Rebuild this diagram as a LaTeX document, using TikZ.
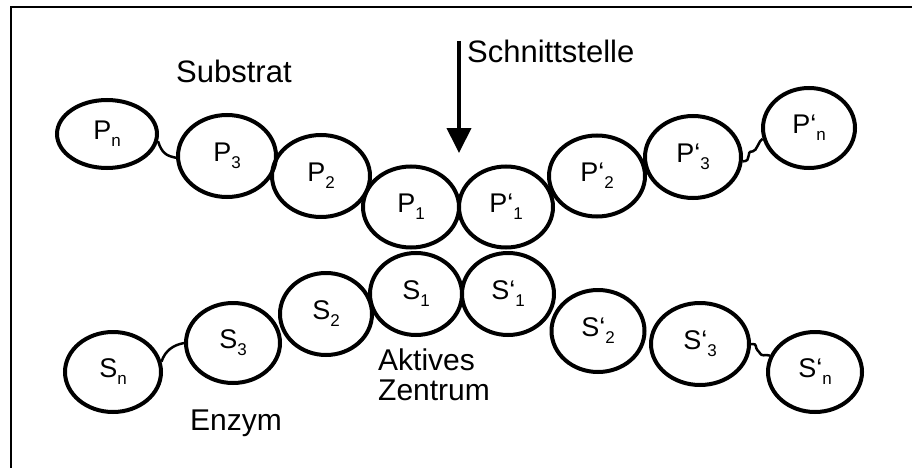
\documentclass[tikz,border=0pt]{standalone}
\usepackage{fontspec}
\setmainfont{Liberation Sans}
\usetikzlibrary{shapes.geometric,arrows.meta}
\newcommand\sublbl[2]{#1\raisebox{-7pt}{\fontsize{17}{17}\selectfont #2}}
\begin{document}
\begin{tikzpicture}[x=1pt,y=-1pt,
  unit/.style={draw,ellipse,line width=4pt,inner sep=0pt,
    minimum width=96pt,minimum height=81pt,
    font=\fontsize{27}{27}\selectfont},
  link/.style={line width=2.5pt},
  lab/.style={anchor=base west,inner sep=0pt,font=\fontsize{31}{36}\selectfont},
  lowlab/.style={lab,font=\fontsize{30}{34}\selectfont}]
\useasboundingbox (0,0) rectangle (912,468);
\draw[line width=2pt] (11,468) -- (11,7) -- (912,7);
% substrate row
\node[unit,minimum width=100pt,minimum height=68pt] (Pn) at (107,134) {\sublbl{P}{n}};
\node[unit,minimum width=98pt,minimum height=82pt] (P3) at (227,156) {\sublbl{P}{3}};
\node[unit,minimum width=98pt,minimum height=82pt] (P2) at (321,176) {\sublbl{P}{2}};
\node[unit] (P1) at (411,207) {\sublbl{P}{1}};
\node[unit,minimum width=94pt] (Q1) at (506,207) {\sublbl{P‘}{1}};
\node[unit] (Q2) at (597,176) {\sublbl{P‘}{2}};
\node[unit,minimum height=82pt] (Q3) at (693,157) {\sublbl{P‘}{3}};
\node[unit,minimum width=92pt,minimum height=80pt] (Qn) at (809,128) {\sublbl{P‘}{n}};
% enzyme row
\node[unit,minimum width=92pt,minimum height=82pt] (S1) at (416,294) {\sublbl{S}{1}};
\node[unit,minimum width=92pt,minimum height=82pt] (T1) at (508,294) {\sublbl{S‘}{1}};
\node[unit,minimum width=92pt,minimum height=82pt] (S2) at (326,314) {\sublbl{S}{2}};
\node[unit,minimum width=94pt,minimum height=80pt] (S3) at (233,343) {\sublbl{S}{3}};
\node[unit,minimum width=96pt,minimum height=80pt] (Sn) at (113,372) {\sublbl{S}{n}};
\node[unit,minimum width=93pt,minimum height=82pt] (T2) at (598,331) {\sublbl{S‘}{2}};
\node[unit,minimum width=98pt,minimum height=82pt] (T3) at (700,344) {\sublbl{S‘}{3}};
\node[unit,minimum width=94pt,minimum height=80pt] (Tn) at (815,372) {\sublbl{S‘}{n}};
% wavy links
\draw[link] (Pn.-8) .. controls +(4,12) and +(-10,-2) .. (P3.182);
\draw[link] (Q3.-5) .. controls +(10,0) and +(-8,0) .. ++(10,-10) .. controls +(4,0) and +(-4,2) .. (Qn.193);
\draw[link] (Sn.12) .. controls +(4,-12) and +(-10,2) .. (S3.180);
\draw[link] (T3.0) .. controls +(8,0) and +(-6,-6) .. ++(8,8) .. controls +(4,6) and +(-6,-2) .. (Tn.160);
% cleavage arrow
\coordinate (cutA) at (459,41);
\coordinate (cutB) at (459,153);
\draw[line width=4pt,-{Triangle[width=24pt,length=25pt]}] (cutA) -- (cutB);
% labels
\node[lab] (schnitt) at (467,63) {Schnittstelle};
\node[lab] (substrat) at (176,83) {Substrat};
\node[lowlab] (aktiv) at (378,370) {Aktives};
\node[lowlab] (zentrum) at (378,400) {Zentrum};
\node[lowlab] (enzym) at (190,430) {Enzym};
\end{tikzpicture}
\end{document}
